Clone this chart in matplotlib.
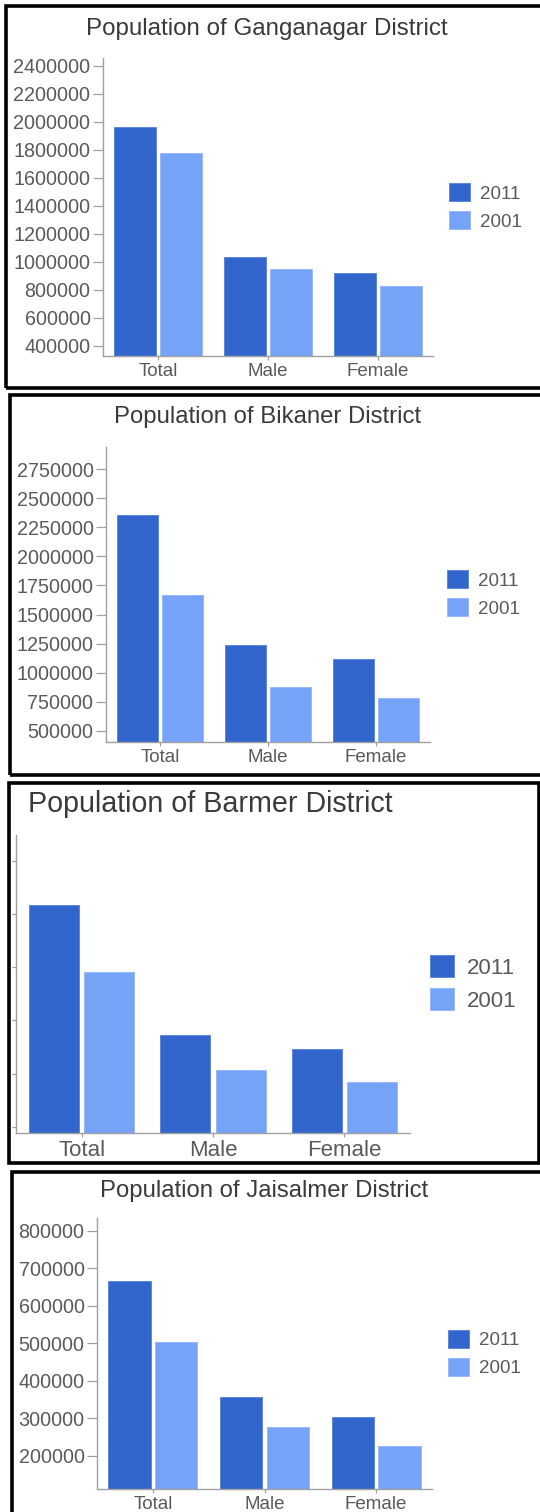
import matplotlib
matplotlib.use('Agg')
import matplotlib.pyplot as plt
import matplotlib.patches as patches
import numpy as np

plt.rcParams['font.family'] = ['Liberation Sans', 'DejaVu Sans']

# data
categories = ['Total', 'Male', 'Female']
years = ['2011', '2001']

ganganagar_2011 = [1962000, 1036000, 921000]
ganganagar_2001 = [1779000, 948000, 826000]

bikaner_2011 = [2354000, 1235000, 1119000]
bikaner_2001 = [1668000, 878000, 779000]

barmer_2011 = [2587000, 1365000, 1231000]
barmer_2001 = [1953000, 1030000, 924000]

jaisalmer_2011 = [666000, 358000, 305000]
jaisalmer_2001 = [504000, 276000, 227000]

W, H = 540, 1512
DARK = '#3366cc'
LIGHT = '#76a3f8'
AXIS = '#a0a0a0'
TXT = '#5a5a5a'


def px_rect(left, top, right, bottom):
    """pixel box (from top-left) -> figure fraction rect"""
    return [left / W, (H - bottom) / H, (right - left) / W, (bottom - top) / H]


def draw_panel(fig, frame, axbox, title, title_pos, title_ha, title_size,
               v2011, v2001, ylim, yticks, show_ylabels, leg_pos, fs, yfs):
    # black frame around the panel
    fl, ft, fr, fb = frame
    rect = patches.Rectangle((fl / W, (H - fb) / H), (fr - fl) / W, (fb - ft) / H,
                             transform=fig.transFigure, fill=False,
                             edgecolor='black', linewidth=2.6, clip_on=False)
    fig.patches.append(rect)

    fig.text(title_pos[0] / W, (H - title_pos[1]) / H, title, ha=title_ha,
             va='baseline', fontsize=title_size, color='#3a3a3a')

    ax = fig.add_axes(px_rect(*axbox))
    x = np.arange(len(categories))
    b1 = ax.bar(x - 0.21, v2011, width=0.38, color=DARK, edgecolor='#5580d6',
                linewidth=0.6, label=years[0])
    b2 = ax.bar(x + 0.21, v2001, width=0.38, color=LIGHT, edgecolor='#92b6fa',
                linewidth=0.6, label=years[1])
    ax.set_xlim(-0.5, 2.5)
    ax.set_ylim(*ylim)
    ax.set_xticks(x)
    ax.set_xticklabels(categories, fontsize=fs, color=TXT)
    ax.set_yticks(yticks)
    if show_ylabels:
        ax.set_yticklabels([str(v) for v in yticks], fontsize=yfs, color=TXT)
        ax.tick_params(axis='y', length=7, pad=2, color=AXIS, width=0.9)
    else:
        ax.set_yticklabels([])
        ax.tick_params(axis='y', length=3, pad=0, color=AXIS, width=0.9)
    ax.tick_params(axis='x', length=3, pad=2, color=AXIS, width=0.9)
    for s in ['top', 'right']:
        ax.spines[s].set_visible(False)
    for s in ['left', 'bottom']:
        ax.spines[s].set_color(AXIS)
        ax.spines[s].set_linewidth(1.0)

    ax.legend(handles=[b1, b2], loc='center left',
              bbox_to_anchor=(leg_pos[0] / W, (H - leg_pos[1]) / H),
              bbox_transform=fig.transFigure, frameon=False, fontsize=fs,
              handlelength=1.1, handleheight=1.1, handletextpad=0.55,
              labelspacing=0.45, borderpad=0, borderaxespad=0,
              labelcolor=TXT)
    return ax


fig = plt.figure(figsize=(W / 100, H / 100), dpi=100)
fig.patch.set_facecolor('white')

draw_panel(fig, (6, 6, 550, 388), (103, 58, 433, 356),
           'Population of Ganganagar District', (267, 35), 'center', 17.4,
           ganganagar_2011, ganganagar_2001, (326500, 2455000),
           list(range(400000, 2400001, 200000)), True, (449, 207), 13.5, 14.2)

draw_panel(fig, (10, 395, 550, 775), (106, 447, 430, 742),
           'Population of Bikaner District', (268, 422.7), 'center', 17.2,
           bikaner_2011, bikaner_2001, (402700, 2942000),
           list(range(500000, 2750001, 250000)), True, (447, 594), 13.5, 14.2)

draw_panel(fig, (9, 783, 539, 1163), (16, 835, 410, 1133),
           'Population of Barmer District', (28, 811.7), 'left', 20.6,
           barmer_2011, barmer_2001, (441000, 3241000),
           list(range(500000, 3000001, 500000)), False, (430, 983.5), 16, 16)

draw_panel(fig, (12, 1172, 550, 1530), (97, 1218, 432, 1489),
           'Population of Jaisalmer District', (264, 1196.7), 'center', 17.2,
           jaisalmer_2011, jaisalmer_2001, (112000, 834000),
           list(range(200000, 800001, 100000)), True, (448, 1353.5), 13.5, 14.2)

fig.savefig('out.png', dpi=100, facecolor='white')
plt.close(fig)
